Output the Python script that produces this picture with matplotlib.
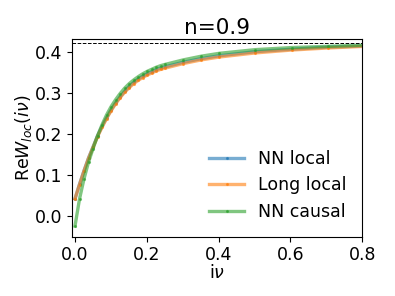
import matplotlib
matplotlib.use("Agg")
import matplotlib.pyplot as plt

# Matsubara frequencies (2*pi*n/beta, beta = 500)
nu = [0.0000, 0.0126, 0.0251, 0.0377, 0.0503, 0.0628, 0.0754, 0.0880, 0.1005,
      0.1131, 0.1257, 0.1382, 0.1508, 0.1634, 0.1759, 0.1885, 0.2011, 0.2136,
      0.2262, 0.2388, 0.2513, 0.3016, 0.3519, 0.4021, 0.5027, 0.6032, 0.7037,
      0.8042]

nn_local = [0.0415, 0.077, 0.110, 0.141, 0.168, 0.195, 0.218, 0.239, 0.258,
            0.275, 0.290, 0.303, 0.315, 0.325, 0.333, 0.340, 0.346, 0.351,
            0.356, 0.360, 0.363, 0.374, 0.383, 0.390, 0.400, 0.406, 0.411,
            0.414]
long_local = [0.0415, 0.076, 0.109, 0.140, 0.167, 0.193, 0.216, 0.237, 0.256,
              0.273, 0.288, 0.301, 0.312, 0.322, 0.330, 0.337, 0.343, 0.348,
              0.353, 0.357, 0.360, 0.371, 0.380, 0.387, 0.397, 0.404, 0.409,
              0.413]
nn_causal = [-0.025, 0.041, 0.090, 0.131, 0.164, 0.195, 0.222, 0.246, 0.266,
             0.283, 0.298, 0.311, 0.322, 0.331, 0.339, 0.346, 0.352, 0.357,
             0.362, 0.366, 0.369, 0.380, 0.389, 0.396, 0.405, 0.410, 0.413,
             0.416]

w_inf = 0.421
title = "n=0.9"
labels = ["NN local", "Long local", "NN causal"]

fig = plt.figure(figsize=(3.95, 2.96), dpi=100)
ax = fig.add_axes([0.1815, 0.2003, 0.7355, 0.6667])

for y, lab, c in zip([nn_local, long_local, nn_causal], labels, ["C0", "C1", "C2"]):
    ax.plot(nu, y, color=c, lw=2.4, alpha=0.6, marker='.', ms=2.5, label=lab)

ax.axhline(w_inf, color='black', ls='--', lw=0.7)

ax.set_xlim(-0.0092, 0.8)
ax.set_ylim(-0.051, 0.430)
ax.set_xticks([0.0, 0.2, 0.4, 0.6, 0.8])
ax.set_yticks([0.0, 0.1, 0.2, 0.3, 0.4])
ax.tick_params(labelsize=12.5)
ax.set_title(title, fontsize=15.5, pad=4)
ax.set_xlabel(r"i$\nu$", fontsize=12.5, labelpad=0)
ax.set_ylabel(r"Re$W_{loc}(i\nu)$", fontsize=12.5, labelpad=0)
ax.legend(loc='lower right', frameon=False, fontsize=12.5, handlelength=2.0,
          handletextpad=0.8, borderaxespad=0.5, labelspacing=0.5)

fig.savefig("out.png", dpi=100)
